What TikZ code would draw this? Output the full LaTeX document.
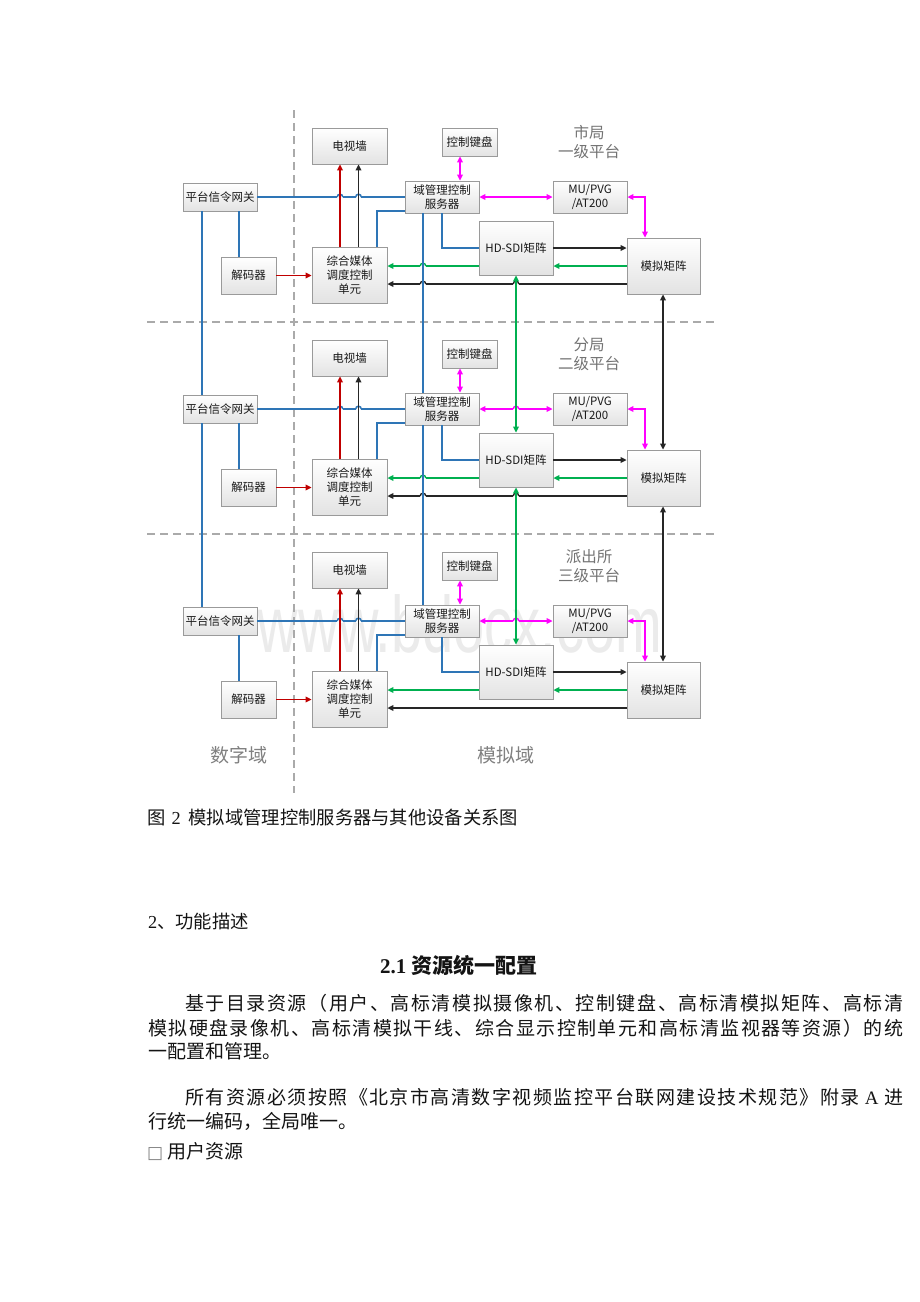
\documentclass[tikz,border=0pt]{standalone}
\usepackage{fontspec}
\setmainfont{Liberation Serif}
\newfontfamily\cjk{Noto Sans CJK SC}
\newfontfamily\wmfont{Liberation Sans}
\newfontfamily\symfont{DejaVu Sans}
\usetikzlibrary{arrows.meta}
\definecolor{lnblue}{HTML}{2E75B6}
\definecolor{lnred}{HTML}{C00000}
\definecolor{lngreen}{HTML}{00B050}
\definecolor{lnmag}{HTML}{FF00FF}
\definecolor{lnblack}{HTML}{262626}
\definecolor{boxdraw}{HTML}{9A9A9A}
\definecolor{dashgray}{HTML}{AAAAAA}
\def\sprA#1{#1\sprB}
\def\sprB#1{\ifx\relax#1\else\hfil#1\expandafter\sprB\fi}
\newcommand\latA{\hspace{4pt}{\rmfamily A}\hspace{4pt}}
\newcommand\hop[3]{%
  \draw[white,line width=3.4pt] (#1-2.8,#2) -- (#1+2.8,#2);
  \draw[#3] (#1-2.8,#2) arc (180:360:2.8);}
\begin{document}
\begin{tikzpicture}[x=1pt,y=-1pt,
  >={Triangle[length=6pt,width=5.6pt]},
  box/.style={draw=boxdraw, line width=0.8pt, top color=white, bottom color=black!11,
    font=\cjk\fontsize{11.5}{13.8}\selectfont, text=black!90, align=center, inner sep=0pt},
  lvl/.style={font=\cjk\fontsize{15.5}{19}\selectfont, text=black!55, align=center},
  dom/.style={font=\cjk\fontsize{19}{22}\selectfont, text=black!50},
  body/.style={anchor=west, inner sep=0pt, font=\cjk\fontsize{19}{22}\selectfont, text=black!92},
  dsh/.style={draw=dashgray, line width=1.3pt, dash pattern=on 8pt off 5pt},
  bl/.style={draw=lnblue, line width=1.5pt},
  rd/.style={draw=lnred, line width=1.4pt},
  bk/.style={draw=lnblack, line width=1.4pt},
  gr/.style={draw=lngreen, line width=1.4pt},
  mg/.style={draw=lnmag, line width=1.4pt}]
\fill[white] (0,0) rectangle (920,1302);
\useasboundingbox (0,0) rectangle (920,1302);

% watermark
\node[anchor=base, inner sep=0pt, text=black!8, font=\wmfont\fontsize{80}{80}\selectfont, xscale=0.7] (wm) at (460,652) {www.bdocx.com};

% domain separators
\draw[dsh] (294,110) -- (294,793);
\draw[dsh] (147,322) -- (718,322);
\draw[dsh] (147,534) -- (718,534);

\foreach \L/\ta/\tb in {0/市局/一级平台,1/分局/二级平台,2/派出所/三级平台}{
\begin{scope}[shift={(0,212*\L)}]
  \node[box,minimum width=75pt,minimum height=36pt] (tv\L) at (349.5,146) {电视墙};
  \node[box,minimum width=74pt,minimum height=28pt] (gw\L) at (220,197) {平台信令网关};
  \node[box,minimum width=55pt,minimum height=37pt] (dec\L) at (248.5,275.5) {解码器};
  \node[box,minimum width=75pt,minimum height=56pt] (mix\L) at (349.5,275) {综合媒体\\调度控制\\单元};
  \node[box,minimum width=55pt,minimum height=28pt] (kb\L) at (469.5,142) {控制键盘};
  \node[box,minimum width=74pt,minimum height=32pt] (srv\L) at (442,197) {域管理控制\\服务器};
  \node[box,minimum width=74pt,minimum height=32pt] (mu\L) at (590,197) {MU/PVG\\/AT200};
  \node[box,minimum width=74pt,minimum height=54pt] (hd\L) at (516,248) {HD-SDI矩阵};
  \node[box,minimum width=73pt,minimum height=56pt] (am\L) at (663.5,266) {模拟矩阵};
  \node[lvl] (lv\L) at (589,142.5) {\ta\\\tb};
  % horizontal links
  \draw[bl] (gw\L.east) -- (srv\L.west);
  \hop{340}{197}{bl}
  \hop{358.5}{197}{bl}
  \draw[rd,->] (dec\L.east) -- (dec\L.east -| mix\L.west);
  \draw[gr,->] (am\L.west) -- (am\L.west -| hd\L.east);
  \draw[gr,->] (hd\L.west |- am\L.west) -- (am\L.west -| mix\L.east);
  \draw[bk,->] ([yshift=-18pt]am\L.west) -- ([yshift=-18pt]am\L.west -| mix\L.east);
  \draw[bk,->] (hd\L.east) -- (hd\L.east -| am\L.west);
  \draw[mg,<->] (srv\L.east) -- (mu\L.west);
  \draw[mg,<->] (mu\L.east) -| ([xshift=-18.5pt]am\L.north);
  \ifnum\L<2
    \hop{423}{266}{gr}
    \hop{423}{284}{bk}
    \hop{516}{284}{bk}
  \fi
  \ifnum\L>0
    \hop{516}{197}{mg}
  \fi
  % vertical links
  \draw[rd,->] ([xshift=-9.5pt]mix\L.north) -- ([xshift=-9.5pt]tv\L.south);
  \draw[bk,->] ([xshift=9pt]mix\L.north) -- ([xshift=9pt]tv\L.south);
  \draw[bl] ([xshift=27.5pt]mix\L.north) |- ([yshift=-14pt]srv\L.west);
  \draw[bl] ([xshift=19pt]gw\L.south) -- ([xshift=-9.5pt]dec\L.north);
  \draw[bl] (srv\L.south) |- (hd\L.west);
  \draw[mg,<->] ([xshift=-9.5pt]kb\L.south) -- ([xshift=18pt]srv\L.north);
\end{scope}
}

% links between levels
\foreach \a/\b in {0/1,1/2}{
  \draw[bl] ([xshift=-18pt]gw\a.south) -- ([xshift=-18pt]gw\b.north);
  \draw[bl] ([xshift=-19pt]srv\a.south) -- ([xshift=-19pt]srv\b.north);
  \draw[gr,<->] (hd\a.south) -- (hd\b.north);
  \draw[bk,<->] ([xshift=-0.5pt]am\a.south) -- ([xshift=-0.5pt]am\b.north);
}

\node[dom] (dd) at (239,755) {数字域};
\node[dom] (ad) at (506,755) {模拟域};

% document text
\node[body, font=\cjk\fontsize{18.3}{22}\selectfont] (cap) at (147,818) {图\hspace{6pt}{\rmfamily 2}\hspace{8pt}模拟域管理控制服务器与其他设备关系图};
\node[body, font=\cjk\fontsize{18.3}{22}\selectfont] (sec) at (148,922) {{\rmfamily 2}、功能描述};
\node[body, font=\cjk\bfseries\fontsize{21}{24}\selectfont] (hd21) at (380,965) {{\rmfamily\bfseries 2.1}\hspace{5pt}资源统一配置};
\node[body] (p1a) at (185,1003) {\hbox to 718pt{\sprA 基于目录资源（用户、高标清模拟摄像机、控制键盘、高标清模拟矩阵、高标清\relax}};
\node[body] (p1b) at (148,1028) {\hbox to 755pt{\sprA 模拟硬盘录像机、高标清模拟干线、综合显示控制单元和高标清监视器等资源）的统\relax}};
\node[body] (p1c) at (148,1051) {一配置和管理。};
\node[body] (p2a) at (185,1097) {\hbox to 718pt{\sprA 所有资源必须按照《北京市高清数字视频监控平台联网建设技术规范》附录\latA 进\relax}};
\node[body] (p2b) at (148,1121) {行统一编码，全局唯一。};
\node[body] (p3) at (147,1152) {{\symfont\fontsize{17}{17}\selectfont\color{black!50}□}\hspace{4pt}用户资源};
\end{tikzpicture}
\end{document}
